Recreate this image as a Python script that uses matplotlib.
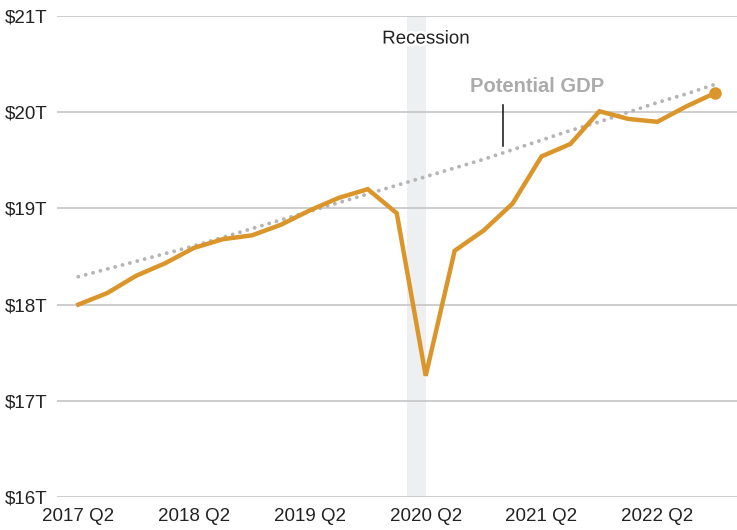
import matplotlib
matplotlib.use("Agg")
import matplotlib.pyplot as plt
import matplotlib.patheffects as pe

plt.rcParams['font.family'] = ['Liberation Sans', 'DejaVu Sans']

quarters = ["2017 Q2", "2017 Q3", "2017 Q4", "2018 Q1", "2018 Q2", "2018 Q3", "2018 Q4",
            "2019 Q1", "2019 Q2", "2019 Q3", "2019 Q4", "2020 Q1", "2020 Q2", "2020 Q3",
            "2020 Q4", "2021 Q1", "2021 Q2", "2021 Q3", "2021 Q4", "2022 Q1", "2022 Q2",
            "2022 Q3", "2022 Q4"]
real_gdp = [18.00, 18.12, 18.30, 18.43, 18.59, 18.68, 18.72, 18.83, 18.98, 19.11, 19.20,
            18.95, 17.26, 18.56, 18.77, 19.05, 19.54, 19.67, 20.01, 19.93, 19.90, 20.06, 20.20]
potential_gdp = [18.29, 18.37, 18.45, 18.53, 18.61, 18.70, 18.79, 18.88, 18.97, 19.06, 19.15,
                 19.24, 19.33, 19.42, 19.51, 19.61, 19.71, 19.81, 19.90, 20.00, 20.10, 20.19, 20.29]
tick_labels = ["2017 Q2", "2018 Q2", "2019 Q2", "2020 Q2", "2021 Q2", "2022 Q2"]
y_ticks = [16, 17, 18, 19, 20, 21]
y_tick_labels = ["$16T", "$17T", "$18T", "$19T", "$20T", "$21T"]
recession = (11.36, 12.0)

orange = '#da952b'
grey_dot = '#b5b5b5'

fig = plt.figure(figsize=(7.37, 5.30), dpi=100)
ax = fig.add_axes([57 / 737, 33 / 530, 680 / 737, 481 / 530])

x = list(range(len(quarters)))
ax.set_xlim((57 - 78.3) / 28.95, (737 - 78.3) / 28.95)
ax.set_ylim(16, 21)

ax.axvspan(recession[0], recession[1], color='#eeeff1', zorder=0, lw=0)

for yt in y_ticks:
    ax.axhline(yt, color='#c6c6c6', lw=1.2, zorder=1)

ax.plot(x, potential_gdp, color=grey_dot, lw=2.8, linestyle=(0, (0.01, 1.95)),
        dash_capstyle='round', zorder=2)
ax.plot(x, real_gdp, color=orange, lw=3.2, solid_joinstyle='miter', zorder=3)
ax.plot([x[-1]], [real_gdp[-1]], 'o', color=orange, markersize=8, zorder=4)

ax.text(12.0, 20.76, "Recession", ha='center', va='center', fontsize=13.5, color='#222222',
        path_effects=[pe.withStroke(linewidth=4, foreground='white')], zorder=5)
ax.text(15.84, 20.265, "Potential GDP", ha='center', va='center', fontsize=14.5,
        fontweight='bold', color='#ababab', zorder=5)
ax.plot([14.66, 14.66], [19.645, 20.08], color='#111111', lw=1.1, zorder=5)

ax.set_xticks([quarters.index(t) for t in tick_labels])
ax.set_xticklabels(tick_labels)
ax.set_yticks(y_ticks)
ax.set_yticklabels(y_tick_labels)
ax.tick_params(axis='both', length=0, labelsize=13.5, colors='#222222')
ax.tick_params(axis='y', pad=7)
ax.tick_params(axis='x', pad=8)
for s in ax.spines.values():
    s.set_visible(False)

fig.savefig("out.png", dpi=100)
